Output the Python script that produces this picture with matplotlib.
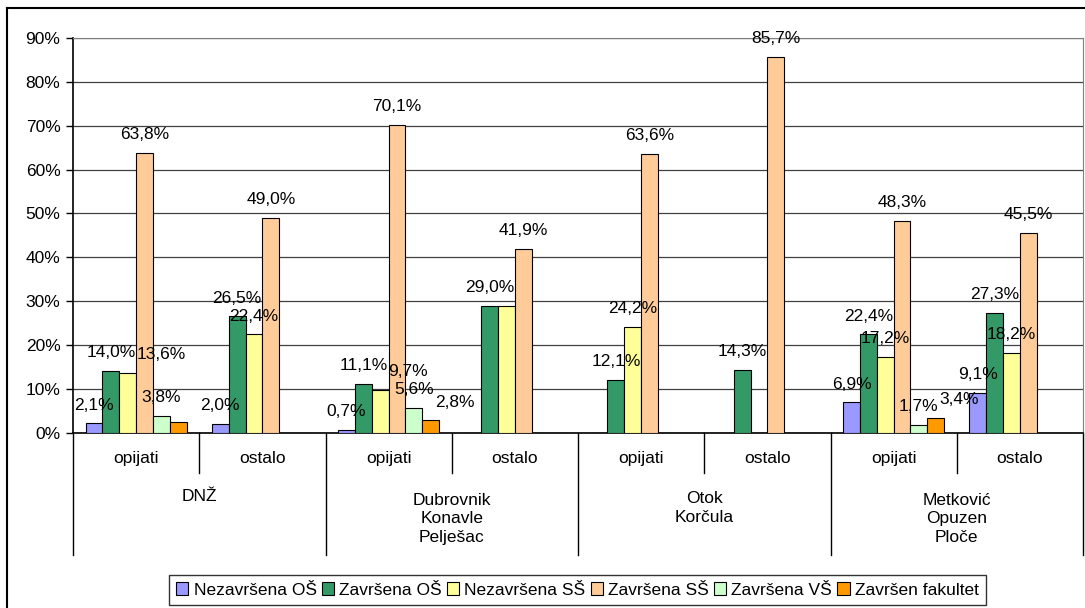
import matplotlib
matplotlib.use("Agg")
import matplotlib.pyplot as plt
import numpy as np
from matplotlib.lines import Line2D
from matplotlib.patches import Patch

plt.rcParams['font.family'] = ['Liberation Sans', 'DejaVu Sans']

# data
regions = ["DNŽ", "Dubrovnik\nKonavle\nPelješac", "Otok\nKorčula", "Metković\nOpuzen\nPloče"]
subcats = ["opijati", "ostalo"]
series = ["Nezavršena OŠ", "Završena OŠ", "Nezavršena SŠ", "Završena SŠ", "Završena VŠ", "Završen fakultet"]
colors = ["#9999FF", "#339966", "#FFFF99", "#FFCC99", "#CCFFCC", "#FF9900"]

nezavrsena_os = [2.1, 2.0, 0.7, 0.0, 0.0, 0.0, 6.9, 9.1]
zavrsena_os = [14.0, 26.5, 11.1, 29.0, 12.1, 14.3, 22.4, 27.3]
nezavrsena_ss = [13.6, 22.4, 9.7, 29.0, 24.2, 0.0, 17.2, 18.2]
zavrsena_ss = [63.8, 49.0, 70.1, 41.9, 63.6, 85.7, 48.3, 45.5]
zavrsena_vs = [3.8, 0.0, 5.6, 0.0, 0.0, 0.0, 1.7, 0.0]
zavrsen_fakultet = [2.5, 0.0, 2.8, 0.0, 0.0, 0.0, 3.4, 0.0]
values = [nezavrsena_os, zavrsena_os, nezavrsena_ss, zavrsena_ss, zavrsena_vs, zavrsen_fakultet]

# labels not shown in the original (series index, category index)
hidden = [(5, 0), (2, 3)]

fs = 12.5
fig = plt.figure(figsize=(10.85, 6.08), dpi=100)
W, H = 1085, 608
ax = fig.add_axes([73 / W, 1 - 432.7 / H, (1083 - 73) / W, (432.7 - 38) / H])

n_cat = len(subcats) * len(regions)
x = np.arange(n_cat)
w = 1 / 7.5
labels = {j: [] for j in range(n_cat)}
for i, (name, vals) in enumerate(zip(series, values)):
    pos = x + (i - 2.5) * w
    ax.bar(pos, vals, w, color=colors[i], edgecolor="black", linewidth=0.8, zorder=3)
    for j, v in enumerate(vals):
        if v > 0 and (i, j) not in hidden:
            t = ax.annotate(f"{v:.1f}%".replace(".", ","), (pos[j], v), xytext=(0, 10),
                            textcoords="offset points", ha="center", va="baseline",
                            fontsize=fs, zorder=4)
            labels[j].append(t)

ax.set_xlim(-0.5, n_cat - 0.5)
ax.set_ylim(0, 90)
ax.set_yticks(np.arange(0, 91, 10))
ax.set_yticklabels([f"{t}%" for t in range(0, 91, 10)], fontsize=fs)
ax.yaxis.grid(True, color="#404040", linewidth=0.9)
ax.set_axisbelow(True)
ax.set_xticks([])
ax.tick_params(axis="y", direction="out", length=5, width=1, pad=4)
ax.spines["top"].set_color("#808080")
ax.spines["right"].set_color("#808080")
ax.spines["left"].set_linewidth(1.2)
ax.spines["bottom"].set_linewidth(1.2)

# two-level category axis
trans = ax.get_xaxis_transform()
ax_h = 432.7 - 38
y1 = -40 / ax_h
y2 = -122 / ax_h
for b in np.arange(-0.5, n_cat, 1):
    r = int(round(b + 0.5))
    y_end = y2 if r % 2 == 0 else y1
    ax.plot([b, b], [0, y_end], color="black", lw=1, transform=trans, clip_on=False)
for j in range(n_cat):
    ax.text(j, -26 / ax_h, subcats[j % 2], transform=trans, ha="center", va="center", fontsize=fs)
for k, reg in enumerate(regions):
    nl = reg.count("\n")
    ax.text(2 * k + 0.5, -(64 + nl * 11) / ax_h, reg, transform=trans, ha="center",
            va="center", fontsize=fs, linespacing=1.3)

# legend
handles = [Patch(facecolor=c, edgecolor="black", linewidth=0.8) for c in colors]
leg = fig.legend(handles, series, loc="center", bbox_to_anchor=(577.5 / W, 1 - 590 / H),
                 ncol=6, fontsize=fs, frameon=True, fancybox=False, handlelength=0.7,
                 handleheight=0.7, handletextpad=0.3, columnspacing=0.3, borderpad=0.4)
leg.get_frame().set_edgecolor("black")
leg.get_frame().set_linewidth(1)

# chart area border
fig.add_artist(Line2D([7 / W, 7 / W], [0, 1 - 8 / H], color="black", lw=1.5))
fig.add_artist(Line2D([7 / W, 1], [1 - 8 / H, 1 - 8 / H], color="black", lw=1.5))

# push overlapping data labels to the right, like Excel does
fig.canvas.draw()
r = fig.canvas.get_renderer()
for j, lst in labels.items():
    placed = []
    for t in lst:
        bb = t.get_window_extent(r)
        shift = 0
        for pb in placed:
            if bb.y0 < pb.y1 and bb.y1 > pb.y0 and bb.x0 + shift < pb.x1 and bb.x1 + shift > pb.x0:
                shift = pb.x1 - bb.x0 + 1
        if shift:
            ox, oy = t.xyann
            t.xyann = (ox + shift * 72 / fig.dpi, oy)
            fig.canvas.draw()
            bb = t.get_window_extent(r)
        placed.append(bb)

fig.savefig("out.png", dpi=100)
